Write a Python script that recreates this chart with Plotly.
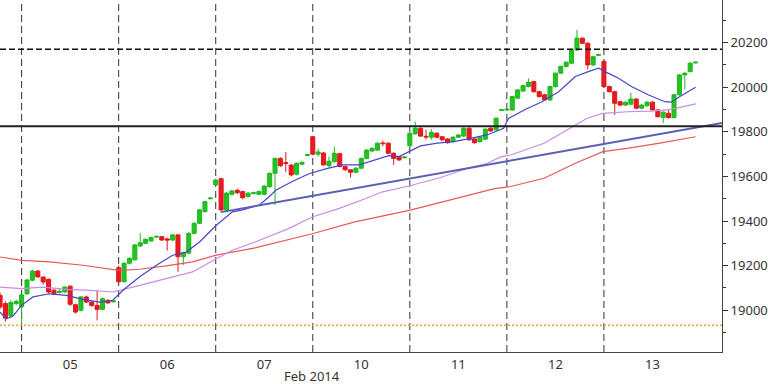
import plotly.graph_objects as go

# ---------------- data ----------------
# candle index (18 bars per trading day; day 05 starts at index 0)
bar_index = list(range(-4, 126))

open_ = [
    # 04 (partial)
    19067, 19030, 18975, 19030,
    # 05
    19016, 19074, 19135, 19176, 19149, 19139, 19090, 19080, 19082, 19108, 19025, 19000, 19060, 19037, 19022, 19004, 19045, 19038,
    # 06
    19191, 19128, 19211, 19226, 19288, 19300, 19311, 19328, 19330, 19320, 19315, 19338, 19240, 19256, 19345, 19390, 19442, 19500,
    # 07
    19562, 19590, 19450, 19520, 19538, 19532, 19510, 19524, 19520, 19520, 19554, 19614, 19681, 19662, 19651, 19610, 19655, 19694,
    # 10
    19778, 19700, 19705, 19648, 19666, 19702, 19645, 19630, 19619, 19637, 19681, 19714, 19718, 19750, 19749, 19704, 19689, 19684,
    # 11
    19737, 19791, 19816, 19780, 19776, 19794, 19778, 19768, 19756, 19776, 19781, 19816, 19768, 19756, 19767, 19816, 19809, 19896,
    # 12
    19898, 19898, 19951, 19983, 20003, 20025, 19980, 19966, 19943, 20003, 20063, 20093, 20108, 20167, 20220, 20197, 20100, 20143,
    # 13
    20115, 20003, 19980, 19935, 19920, 19924, 19947, 19906, 19917, 19933, 19898, 19864, 19883, 19864, 19966, 20055, 20070, 20109,
]
high = [
    19080, 19040, 19045, 19048,
    19075, 19140, 19180, 19180, 19152, 19142, 19095, 19100, 19108, 19112, 19030, 19064, 19066, 19040, 19090, 19058, 19048, 19046,
    19200, 19215, 19238, 19297, 19345, 19322, 19330, 19335, 19333, 19325, 19342, 19342, 19262, 19350, 19394, 19454, 19491, 19506,
    19590, 19594, 19530, 19540, 19545, 19536, 19530, 19532, 19537, 19561, 19618, 19685, 19686, 19710, 19655, 19663, 19668, 19700,
    19782, 19725, 19710, 19690, 19733, 19706, 19648, 19633, 19641, 19685, 19722, 19730, 19753, 19760, 19753, 19708, 19693, 19691,
    19798, 19846, 19820, 19810, 19812, 19798, 19782, 19772, 19780, 19790, 19820, 19820, 19772, 19780, 19816, 19820, 19865, 19902,
    19905, 19962, 19992, 20011, 20040, 20029, 19984, 19970, 20007, 20067, 20097, 20116, 20171, 20257, 20224, 20201, 20141, 20150,
    20120, 20007, 19984, 19939, 19937, 19975, 19951, 19924, 19937, 19937, 19902, 19892, 19900, 19970, 20059, 20067, 20112, 20115,
]
low = [
    19005, 18950, 18965, 19022,
    18934, 19068, 19130, 19145, 19115, 19075, 19068, 19075, 19078, 19020, 18985, 18995, 19032, 19015, 18955, 19000, 19030, 19034,
    19120, 19125, 19206, 19222, 19284, 19296, 19307, 19325, 19312, 19268, 19310, 19173, 19203, 19252, 19340, 19386, 19438, 19497,
    19558, 19440, 19445, 19515, 19522, 19498, 19505, 19519, 19515, 19515, 19550, 19472, 19642, 19620, 19600, 19605, 19650, 19690,
    19695, 19690, 19648, 19640, 19662, 19640, 19626, 19595, 19615, 19633, 19677, 19710, 19714, 19735, 19700, 19652, 19670, 19680,
    19733, 19787, 19777, 19765, 19765, 19772, 19760, 19747, 19752, 19772, 19777, 19760, 19747, 19752, 19763, 19800, 19805, 19893,
    19894, 19894, 19947, 19979, 19999, 19976, 19954, 19939, 19939, 19999, 20059, 20089, 20104, 20163, 20193, 20080, 20096, 20140,
    19999, 19976, 19876, 19916, 19916, 19920, 19902, 19902, 19913, 19894, 19864, 19839, 19860, 19860, 19962, 19990, 20066, 20106,
]
close = [
    19015, 18965, 19035, 19040,
    19069, 19136, 19176, 19150, 19127, 19082, 19074, 19084, 19104, 19027, 18992, 19060, 19037, 19022, 19004, 19052, 19033, 19042,
    19128, 19211, 19233, 19293, 19303, 19318, 19326, 19331, 19315, 19315, 19338, 19240, 19258, 19345, 19390, 19450, 19487, 19503,
    19584, 19450, 19525, 19535, 19527, 19505, 19525, 19527, 19532, 19557, 19614, 19681, 19648, 19658, 19607, 19659, 19663, 19697,
    19700, 19710, 19652, 19668, 19704, 19645, 19630, 19619, 19637, 19681, 19718, 19726, 19749, 19747, 19704, 19681, 19674, 19687,
    19794, 19816, 19781, 19777, 19797, 19776, 19764, 19751, 19776, 19786, 19816, 19764, 19751, 19776, 19812, 19804, 19861, 19899,
    19901, 19958, 19988, 20007, 20022, 19980, 19958, 19943, 20003, 20063, 20093, 20112, 20167, 20220, 20197, 20100, 20137, 20146,
    20003, 19980, 19928, 19920, 19933, 19947, 19906, 19920, 19933, 19898, 19868, 19888, 19864, 19966, 20055, 20063, 20108, 20112,
]

# moving averages (at sample bars)
ma_fast_x = [-4, -2.8, -1.6, 0, 2.1, 5.2, 8.3, 11.4, 14.5, 16.9, 18.8, 21.9, 25, 28, 30.5, 33, 36.1, 39.1, 41,
             44.1, 45.9, 47.2, 50.2, 53.3, 56.4, 59.5, 62.6, 65.7, 68.1, 70, 71.8, 74, 77.1, 80.2, 83.2, 86.3,
             89.4, 90.3, 93.4, 96.5, 99.6, 102.7, 105.1, 107, 108.2, 110.7, 113.1, 116.2, 119.3, 120.5, 122.1, 125]
ma_fast_y = [18992, 18962, 18974, 19022, 19060, 19074, 19067, 19049, 19037, 19045, 19090, 19150, 19202, 19247, 19261,
             19306, 19381, 19441, 19450, 19472, 19509, 19539, 19577, 19612, 19634, 19652, 19652, 19674, 19693, 19689,
             19711, 19737, 19749, 19756, 19771, 19786, 19816, 19860, 19900, 19935, 19980, 20048, 20070, 20085, 20070,
             20040, 20003, 19966, 19935, 19933, 19958, 20000]

ma_mid_x = [-4, 0, 4, 8.3, 12, 16.9, 20.6, 24.3, 28, 31.7, 36.1, 39.1, 43.3, 49.5, 53.9, 58.8, 63.7, 66.8, 71.8,
            77.4, 82.9, 86.4, 89, 90.7, 96.9, 101.8, 104.9, 107.8, 112.3, 116.6, 119.7, 121.5, 125]
ma_mid_y = [19104, 19097, 19104, 19094, 19090, 19082, 19104, 19127, 19149, 19172, 19231, 19269, 19306, 19366, 19418,
            19456, 19500, 19530, 19557, 19593, 19638, 19659, 19689, 19696, 19749, 19816, 19861, 19883, 19890, 19893,
            19898, 19906, 19925]

ma_slow_x = [-4, 0, 5.2, 11.4, 18, 21.9, 26.8, 31.7, 36.1, 43.3, 53.9, 61.8, 71.9, 80.3, 87.7, 90.7, 96.9, 102.7,
             107.8, 112.3, 118.4, 125]
ma_slow_y = [19239, 19224, 19217, 19202, 19179, 19184, 19199, 19217, 19247, 19280, 19343, 19396, 19448, 19500, 19545,
             19555, 19592, 19659, 19711, 19726, 19749, 19778]

trend_x = [37, 129.9]
trend_y = [19440, 19840]

level_resistance = 20170
level_support = 19825
level_floor = 18933

day_labels = ["05", "06", "07", "10", "11", "12", "13"]
day_start = [0, 18, 36, 54, 72, 90, 108]
bars_per_day = 18
month_label = "Feb 2014"
month_label_x = 53.8

y_ticks = [19000, 19200, 19400, 19600, 19800, 20000, 20200]
y_tick_text = ["19000", "19200", "19400", "19600", "19800", "20000", "20200"]

# ---------------- figure ----------------
X_RANGE = [-4.01, 129.9]
Y_RANGE = [18813, 20391]
FONT = "Noto Sans"

fig = go.Figure()

fig.add_trace(go.Scatter(x=ma_slow_x, y=ma_slow_y, mode="lines",
                         line=dict(color="#e8585a", width=1.2), hoverinfo="skip"))
fig.add_trace(go.Scatter(x=ma_mid_x, y=ma_mid_y, mode="lines",
                         line=dict(color="#c98be8", width=1.2), hoverinfo="skip"))
fig.add_trace(go.Scatter(x=ma_fast_x, y=ma_fast_y, mode="lines",
                         line=dict(color="#4646cc", width=1.2), hoverinfo="skip"))

fig.add_trace(go.Candlestick(
    x=bar_index, open=open_, high=high, low=low, close=close,
    increasing=dict(line=dict(color="#1fb81f", width=1), fillcolor="#22c422"),
    decreasing=dict(line=dict(color="#e3161c", width=1), fillcolor="#e81a20"),
    whiskerwidth=0, hoverinfo="skip",
))

fig.add_trace(go.Scatter(x=trend_x, y=trend_y, mode="lines",
                         line=dict(color="#5a5fb4", width=2), hoverinfo="skip"))

shapes = []
for ds in day_start:
    shapes.append(dict(type="line", xref="x", yref="paper", x0=ds, x1=ds, y0=0, y1=1,
                       line=dict(color="#333333", width=1, dash="7px,4px"), layer="below"))
shapes.append(dict(type="line", xref="paper", yref="y", x0=0, x1=1,
                   y0=level_resistance, y1=level_resistance,
                   line=dict(color="#111111", width=1.6, dash="6px,3px")))
shapes.append(dict(type="line", xref="paper", yref="y", x0=0, x1=1,
                   y0=level_support, y1=level_support,
                   line=dict(color="#222222", width=2)))
shapes.append(dict(type="line", xref="paper", yref="y", x0=0, x1=1,
                   y0=level_floor, y1=level_floor,
                   line=dict(color="#f0a040", width=1.5, dash="2px,2px")))

fig.update_layout(
    width=768, height=384,
    margin=dict(l=0, r=44, t=0, b=32),
    paper_bgcolor="white", plot_bgcolor="white",
    showlegend=False,
    boxgap=0.25, boxgroupgap=0,
    shapes=shapes,
    font=dict(family=FONT, size=13, color="#333333"),
    annotations=[dict(text=month_label, x=month_label_x, xref="x", y=-0.067, yref="paper",
                      xanchor="center", yanchor="middle", showarrow=False,
                      font=dict(family=FONT, size=13, color="#333333"))],
)
fig.update_xaxes(
    range=X_RANGE, rangeslider=dict(visible=False),
    tickmode="array", tickvals=[d + bars_per_day / 2 for d in day_start], ticktext=day_labels,
    ticks="", showgrid=False, zeroline=False,
    showline=True, linecolor="#444444", linewidth=1,
    tickfont=dict(family=FONT, size=13, color="#333333"),
)
fig.update_yaxes(
    range=Y_RANGE, side="right", tickmode="array", tickvals=y_ticks, ticktext=y_tick_text,
    ticks="outside", ticklen=5, tickcolor="#333333",
    minor=dict(dtick=100, tick0=19000, ticks="outside", ticklen=3, tickcolor="#333333"),
    showgrid=False, zeroline=False, showline=True, linecolor="#444444", linewidth=1,
    tickfont=dict(family=FONT, size=13, color="#333333"),
)

fig.write_html("out.html", config={"displayModeBar": False},
               post_script="document.body.style.margin='0px';document.body.style.overflow='hidden';")
